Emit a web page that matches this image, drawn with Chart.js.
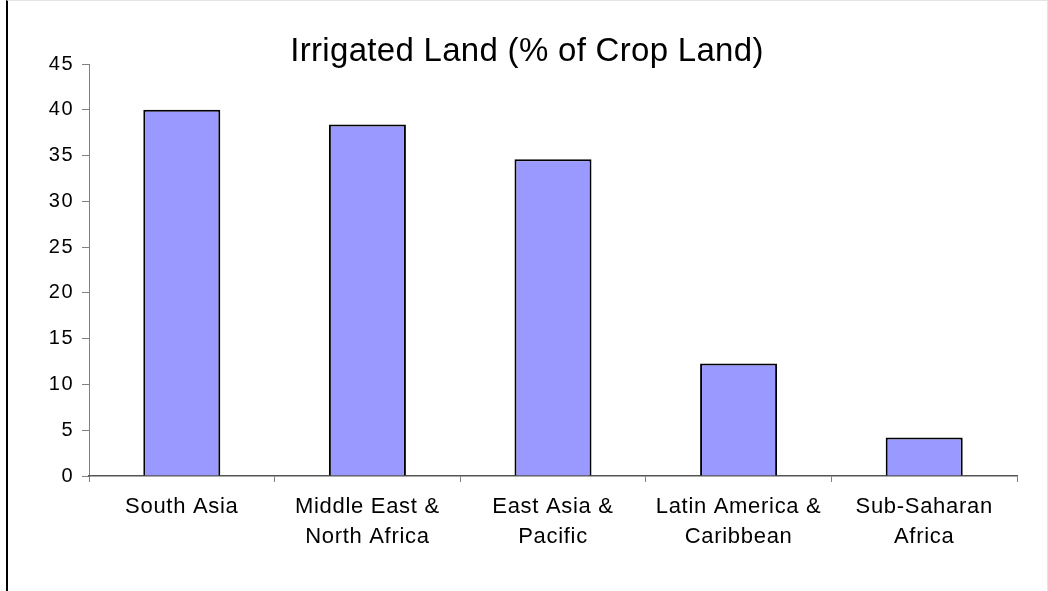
<!DOCTYPE html>
<html>
<head>
<meta charset="utf-8">
<script src="https://cdn.jsdelivr.net/npm/chart.js@4"></script>
<style>
    html, body { margin: 0; padding: 0; background: #fff; }
    #wrap {
        position: relative;
        width: 1048px;
        height: 591px;
        overflow: hidden;
    }
    #frame {
        position: absolute;
        left: 6px; top: 0; right: 0; bottom: -2px;
        border-left: 2px solid #000;
        border-top: 1px solid #e4e4e4;
        border-right: 1px solid #e4e4e4;
    }
    canvas { position: absolute; left: 0; top: 0; }
</style>
</head>
<body>
<div id="wrap">
    <div id="frame"></div>
    <canvas id="irrigChart" width="1048" height="591"></canvas>
</div>
<script>
// データ
const chartTitle = 'Irrigated Land (% of Crop Land)';
const regions = [
    'South Asia',
    ['Middle East &', 'North Africa'],
    ['East Asia &', 'Pacific'],
    ['Latin America &', 'Caribbean'],
    ['Sub-Saharan', 'Africa']
];
const irrigatedPct = [40.0, 38.4, 34.6, 12.3, 4.2];
const yTicks = [0, 5, 10, 15, 20, 25, 30, 35, 40, 45];

const FONT = '"Liberation Sans", Arial, sans-serif';
const axisGrey = '#808080';

// 軸ごとの字間 (元画像は横に少し引き伸ばされている)
const labelSpacing = { x: '0.7px', y: '1.5px' };

const spacingPlugin = {
    id: 'spacing',
    beforeDraw(chart) {
        const ctx = chart.ctx;
        Object.values(chart.scales).forEach(scale => {
            if (scale._spacingWrapped) return;
            const orig = scale.drawLabels;
            const sp = labelSpacing[scale.id] || '0px';
            scale.drawLabels = function (area) {
                ctx.letterSpacing = sp;
                orig.call(this, area);
                ctx.letterSpacing = '0px';
            };
            scale._spacingWrapped = true;
        });
    },
    afterDraw(chart) {
        // タイトル
        const ctx = chart.ctx;
        ctx.save();
        ctx.letterSpacing = '0.3px';
        ctx.font = '33px ' + FONT;
        ctx.fillStyle = '#000';
        ctx.textAlign = 'center';
        ctx.textBaseline = 'alphabetic';
        ctx.fillText(chartTitle, 527, 61);
        ctx.restore();
        ctx.letterSpacing = '0px';
    }
};

new Chart(document.getElementById('irrigChart'), {
    type: 'bar',
    data: {
        labels: regions,
        datasets: [{
            label: chartTitle,
            data: irrigatedPct,
            backgroundColor: '#9999ff',
            borderColor: '#000000',
            borderWidth: 2,
            barPercentage: 1,
            categoryPercentage: 0.415
        }]
    },
    options: {
        responsive: false,
        animation: false,
        layout: { padding: { left: 0, right: 31, top: 64, bottom: 0 } },
        plugins: {
            legend: { display: false },
            tooltip: { enabled: false },
            title: { display: false }
        },
        scales: {
            y: {
                min: 0,
                max: 45,
                afterFit: s => { s.width = 89; },
                afterBuildTicks: s => { s.ticks = yTicks.map(v => ({ value: v })); },
                border: { display: true, color: axisGrey, width: 1 },
                grid: {
                    drawOnChartArea: false,
                    drawTicks: true,
                    tickLength: 7,
                    color: axisGrey
                },
                ticks: {
                    color: '#000',
                    padding: 8,
                    font: { family: FONT, size: 20 }
                }
            },
            x: {
                afterFit: s => { s.height = 115; },
                border: { display: true, color: '#555', width: 1.5 },
                grid: {
                    offset: true,
                    drawOnChartArea: false,
                    drawTicks: true,
                    tickLength: 6,
                    color: axisGrey
                },
                ticks: {
                    color: '#000',
                    padding: 10,
                    maxRotation: 0,
                    autoSkip: false,
                    font: { family: FONT, size: 22, lineHeight: 1.36 }
                }
            }
        }
    },
    plugins: [spacingPlugin]
});
</script>
</body>
</html>
